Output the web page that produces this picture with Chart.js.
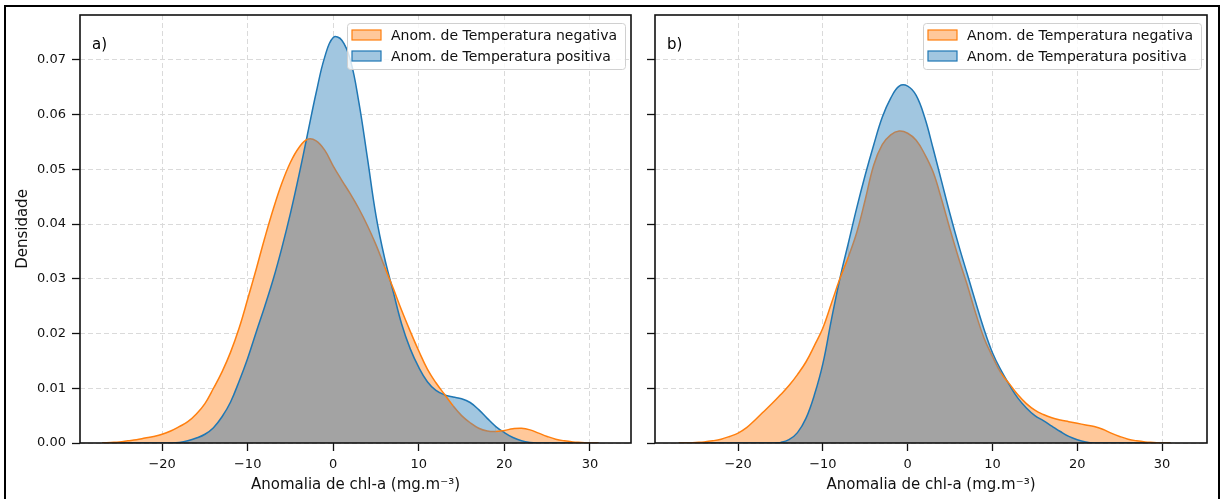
<!DOCTYPE html>
<html>
<head>
<meta charset="utf-8">
<script src="https://cdn.jsdelivr.net/npm/chart.js@4.4.1/dist/chart.umd.min.js"></script>
<style>
  html, body { margin: 0; padding: 0; background: #fff; }
  body { width: 1221px; height: 499px; position: relative; overflow: hidden; font-family: "DejaVu Sans", sans-serif; }
  .frame { position: absolute; left: 4px; top: 5px; width: 1212px; height: 520px; border: 2px solid #000; pointer-events: none; }
  #left { position: absolute; left: 0; top: 0; }
  #right { position: absolute; left: 640px; top: 0; }
</style>
</head>
<body>
<canvas id="left" width="640" height="499"></canvas>
<canvas id="right" width="581" height="499"></canvas>
<div class="frame"></div>
<script>
// anomaly grid (mg.m-3)
const xValues = [-27, -26, -25, -24, -23, -22, -21, -20, -19, -18, -17, -16, -15, -14, -13, -12, -11, -10,
  -9, -8, -7, -6, -5, -4, -3, -2, -1, 0, 1, 2, 3, 4, 5, 6, 7, 8, 9, 10, 11, 12, 13, 14, 15, 16, 17, 18, 19,
  20, 21, 22, 23, 24, 25, 26, 27, 28, 29, 30, 31];

// a) densities
const negA = [0, 0.0001, 0.0002, 0.0004, 0.0006, 0.0009, 0.0012, 0.0016, 0.0022, 0.003, 0.0039, 0.0053,
  0.0072, 0.0100, 0.0130, 0.0166, 0.021, 0.0263, 0.0318, 0.0375, 0.0428, 0.0475, 0.0513, 0.054, 0.0555, 0.0552,
  0.0535, 0.0506, 0.048, 0.0455, 0.0428, 0.0397, 0.0362, 0.0322, 0.0283, 0.0242, 0.0204, 0.0168, 0.0135, 0.011,
  0.0089, 0.0068, 0.005, 0.0037, 0.0027, 0.0022, 0.0021, 0.0023, 0.0026, 0.0027, 0.0024, 0.0018, 0.0012,
  0.0007, 0.0004, 0.0002, 0.0001, 0, 0];
const posA = [0, 0, 0, 0, 0, 0, 0, 0, 0, 0.0001, 0.0004, 0.0009, 0.0016, 0.0028, 0.0048, 0.0075, 0.0113,
  0.0155, 0.0203, 0.025, 0.030, 0.0357, 0.042, 0.049, 0.0565, 0.064, 0.0705, 0.0741, 0.0736, 0.0700, 0.0622,
  0.052, 0.0415, 0.0338, 0.0277, 0.0217, 0.0172, 0.0138, 0.0112, 0.0096, 0.0088, 0.0084, 0.0081, 0.0074, 0.0061,
  0.0045, 0.003, 0.0019, 0.001, 0.0004, 0.0001, 0, 0, 0, 0, 0, 0, 0, 0];

// b) densities
const negB = [0, 0, 0.0001, 0.0002, 0.0004, 0.0007, 0.0012, 0.0018, 0.0028, 0.0042, 0.0057, 0.0072, 0.0088,
  0.0105, 0.0125, 0.0148, 0.0178, 0.021, 0.0255, 0.030, 0.034, 0.0385, 0.0445, 0.0508, 0.0545, 0.0563, 0.057,
  0.0566, 0.0553, 0.0528, 0.0495, 0.0445, 0.039, 0.0338, 0.029, 0.0238, 0.0192, 0.0158, 0.0128, 0.0108, 0.0088,
  0.0072, 0.006, 0.0052, 0.0046, 0.0042, 0.0039, 0.0036, 0.0033, 0.003, 0.0025, 0.0018, 0.0012, 0.0007,
  0.0004, 0.0002, 0.0001, 0, 0];
const posB = [0, 0, 0, 0, 0, 0, 0, 0, 0, 0, 0, 0, 0.0001, 0.0006, 0.0019, 0.0045, 0.0088, 0.0145, 0.0225,
  0.030, 0.0365, 0.043, 0.049, 0.0545, 0.0595, 0.063, 0.0652, 0.0652, 0.0635, 0.0595, 0.0538, 0.0478, 0.0418,
  0.0362, 0.031, 0.0258, 0.0208, 0.0165, 0.0133, 0.0106, 0.0082, 0.0064, 0.005, 0.0041, 0.0031, 0.0021,
  0.0012, 0.0006, 0.0002, 0, 0, 0, 0, 0, 0, 0, 0, 0, 0];

const xTicks = [-20, -10, 0, 10, 20, 30];
const yTicks = [0, 0.01, 0.02, 0.03, 0.04, 0.05, 0.06, 0.07];
const legendLabels = ['Anom. de Temperatura negativa', 'Anom. de Temperatura positiva'];

const ORANGE = '#ff7f0e', BLUE = '#1f77b4';
const ORANGE_FILL = 'rgb(255,200,154)', BLUE_FILL = 'rgb(161,198,224)', GRAY = 'rgb(163,163,163)';
const FONT = '"DejaVu Sans", sans-serif';

function panelPlugin(tag) {
  return {
    id: 'panel' + tag,
    afterDraw(chart) {
      const { ctx, chartArea: a } = chart;
      ctx.save();
      // spines
      ctx.strokeStyle = '#111';
      ctx.lineWidth = 1.6;
      ctx.strokeRect(a.left, a.top, a.right - a.left, a.bottom - a.top);
      // panel tag
      ctx.fillStyle = '#000';
      ctx.font = '15px ' + FONT;
      ctx.textBaseline = 'middle';
      ctx.fillText(tag, a.left + 12, a.top + 30);
      // legend box
      const w = 278, h = 46;
      const bx = a.right - 6 - w, by = a.top + 8;
      ctx.beginPath();
      ctx.roundRect(bx + 0.5, by + 0.5, w, h, 3);
      ctx.fillStyle = 'rgba(255,255,255,0.8)';
      ctx.fill();
      ctx.strokeStyle = '#d0d0d0';
      ctx.lineWidth = 1;
      ctx.stroke();
      const items = [[ORANGE_FILL, ORANGE], [BLUE_FILL, BLUE]];
      ctx.font = '14px ' + FONT;
      items.forEach((it, i) => {
        const cy = by + 12 + i * 21;
        ctx.fillStyle = it[0];
        ctx.fillRect(bx + 5, cy - 5, 29, 10);
        ctx.strokeStyle = it[1];
        ctx.lineWidth = 1.2;
        ctx.strokeRect(bx + 5, cy - 5, 29, 10);
        ctx.fillStyle = '#111';
        ctx.fillText(legendLabels[i], bx + 44, cy + 1);
      });
      ctx.restore();
    }
  };
}

function makeChart(id, neg, pos, tag, xMin, xMax, showY) {
  const negPts = xValues.map((x, i) => ({ x, y: neg[i] }));
  const posPts = xValues.map((x, i) => ({ x, y: pos[i] }));
  return new Chart(document.getElementById(id), {
    type: 'line',
    data: {
      datasets: [
        {
          label: legendLabels[0],
          data: negPts,
          borderColor: ORANGE,
          borderWidth: 1.5,
          pointRadius: 0,
          tension: 0.4,
          fill: { target: 1, above: ORANGE_FILL, below: BLUE_FILL },
          segment: {
            // orange edge looks brown where it sits under the blue curve
            borderColor: c => (neg[c.p0DataIndex] < pos[c.p0DataIndex] && neg[c.p1DataIndex] < pos[c.p1DataIndex]) ? '#b98358' : ORANGE
          }
        },
        {
          label: legendLabels[1],
          data: posPts,
          borderColor: BLUE,
          backgroundColor: GRAY,
          borderWidth: 1.5,
          pointRadius: 0,
          tension: 0.4,
          fill: 'origin'
        }
      ]
    },
    options: {
      responsive: false,
      animation: false,
      devicePixelRatio: 1,
      layout: { padding: { left: 0, top: 15, right: showY ? 9 : 14, bottom: 0 } },
      plugins: {
        legend: { display: false },
        tooltip: { enabled: false },
        filler: { drawTime: 'beforeDatasetsDraw' }
      },
      scales: {
        x: {
          type: 'linear',
          min: xMin,
          max: xMax,
          afterBuildTicks: s => { s.ticks = xTicks.map(v => ({ value: v })); },
          afterFit: s => { s.height = 56; },
          ticks: {
            color: '#111',
            font: { family: FONT, size: 13 },
            padding: 6,
            maxRotation: 0,
            callback: v => v < 0 ? '\u2212' + Math.abs(v) : String(v)
          },
          grid: { color: '#dadada', lineWidth: 1, tickLength: 8, tickColor: '#111', tickWidth: 1.3, tickBorderDash: [] },
          border: { display: false, dash: [5, 3] },
          title: { display: true, text: 'Anomalia de chl-a (mg.m\u207B\u00B3)', color: '#111', font: { family: FONT, size: 15 }, padding: { top: 0, bottom: 5 } }
        },
        y: {
          min: 0,
          max: 0.0782,
          afterBuildTicks: s => { s.ticks = yTicks.map(v => ({ value: v })); },
          afterFit: s => { s.width = showY ? 80 : 15; },
          ticks: {
            display: showY,
            color: '#111',
            font: { family: FONT, size: 13 },
            padding: 6,
            callback: v => v.toFixed(2)
          },
          grid: { color: '#dadada', lineWidth: 1, tickLength: 8, tickColor: '#111', tickWidth: 1.3, tickBorderDash: [] },
          border: { display: false, dash: [5, 3] },
          title: { display: showY, text: 'Densidade', color: '#111', font: { family: FONT, size: 15 }, padding: { top: 14, bottom: 0 } }
        }
      }
    },
    plugins: [panelPlugin(tag)]
  });
}

makeChart('left', negA, posA, 'a)', -29.6, 34.8, true);
makeChart('right', negB, posB, 'b)', -29.8, 35.3, false);
</script>
</body>
</html>
